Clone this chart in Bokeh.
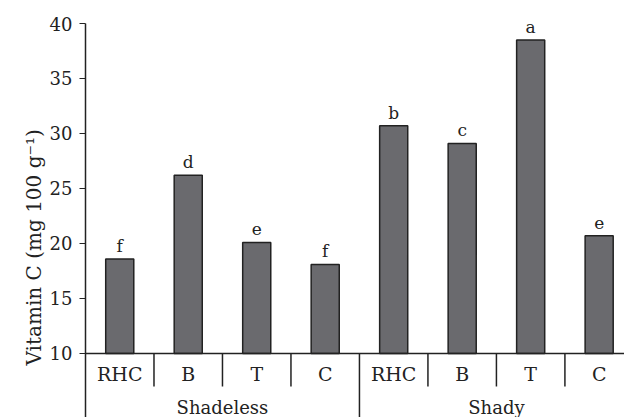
import numpy as np
from bokeh.plotting import figure
from bokeh.models import Range1d, FixedTicker, Span, ColumnDataSource, Title
from bokeh.core.properties import value
from bokeh.embed import file_html
from bokeh.resources import INLINE

# ---- data ----
subcats = ["RHC", "B", "T", "C", "RHC", "B", "T", "C"]
groups = ["Shadeless", "Shady"]
vitamin_c = [18.6, 26.2, 20.1, 18.1, 30.7, 29.1, 38.5, 20.7]
letters = ["f", "d", "e", "f", "b", "c", "a", "e"]
y_ticks = [10, 15, 20, 25, 30, 35, 40]

FONT = value("DejaVu Serif")
INK = "#222222"
BASE = 10
Y_MIN = 4.18

n = len(subcats)
per_group = n // len(groups)
xs = np.arange(n) + 0.5
group_x = np.arange(len(groups)) * per_group + per_group / 2

p = figure(width=624, height=417, output_backend="svg", toolbar_location=None,
           x_range=Range1d(0, 7.87), y_range=Range1d(Y_MIN, 40),
           x_axis_type=None,
           min_border_left=85, min_border_right=0,
           min_border_top=23, min_border_bottom=0)
p.grid.visible = False
p.outline_line_color = None
p.background_fill_color = "white"

ax = p.yaxis[0]
ax.ticker = FixedTicker(ticks=y_ticks)
ax.major_tick_in = 0
ax.major_tick_out = 6
ax.minor_tick_in = 0
ax.minor_tick_out = 0
ax.axis_line_color = INK
ax.axis_line_width = 1.5
ax.major_tick_line_color = INK
ax.major_tick_line_width = 1.2
ax.major_label_text_font = "DejaVu Serif"
ax.major_label_text_font_size = "18px"
ax.major_label_text_color = INK
ax.major_label_standoff = 7

# y-axis title (placed as a side title so it can sit lower, like the reference)
p.add_layout(Title(text="Vitamin C (mg 100 g\u207b\u00b9)", align="left", offset=52,
                   text_font="DejaVu Serif", text_font_size="20px",
                   text_font_style="normal", text_color=INK, standoff=2), "left")

# bars
src = ColumnDataSource(dict(x=xs, top=vitamin_c, letter=letters, sub=subcats))
p.vbar(x="x", top="top", bottom=BASE, width=0.41, source=src,
       fill_color="#6a6a6e", line_color=INK, line_width=1.5)

# baseline
p.add_layout(Span(location=BASE, dimension="width", line_color=INK, line_width=1.5))

# separators
bounds = np.arange(1, n + 1)
minor = [b for b in bounds if b % per_group != 0]
major = [b for b in bounds if b % per_group == 0]
p.segment(x0=minor, x1=minor, y0=[BASE] * len(minor), y1=[7.0] * len(minor),
          line_color=INK, line_width=1.5)
p.segment(x0=major, x1=major, y0=[BASE] * len(major), y1=[Y_MIN] * len(major),
          line_color=INK, line_width=1.5)

# significance letters
p.text(x="x", y="top", text="letter", source=src, y_offset=-13,
       text_align="center", text_baseline="alphabetic",
       text_font=FONT, text_font_size="17px", text_color=INK)

# sub-category labels
p.text(x="x", y=8.1, text="sub", source=src,
       text_align="center", text_baseline="middle",
       text_font=FONT, text_font_size="19px", text_color=INK)

# group labels
p.text(x=group_x, y=[5.1] * len(groups), text=groups,
       text_align="center", text_baseline="alphabetic",
       text_font=FONT, text_font_size="18px", text_color=INK)

open("out.html", "w").write(file_html(p, INLINE))
